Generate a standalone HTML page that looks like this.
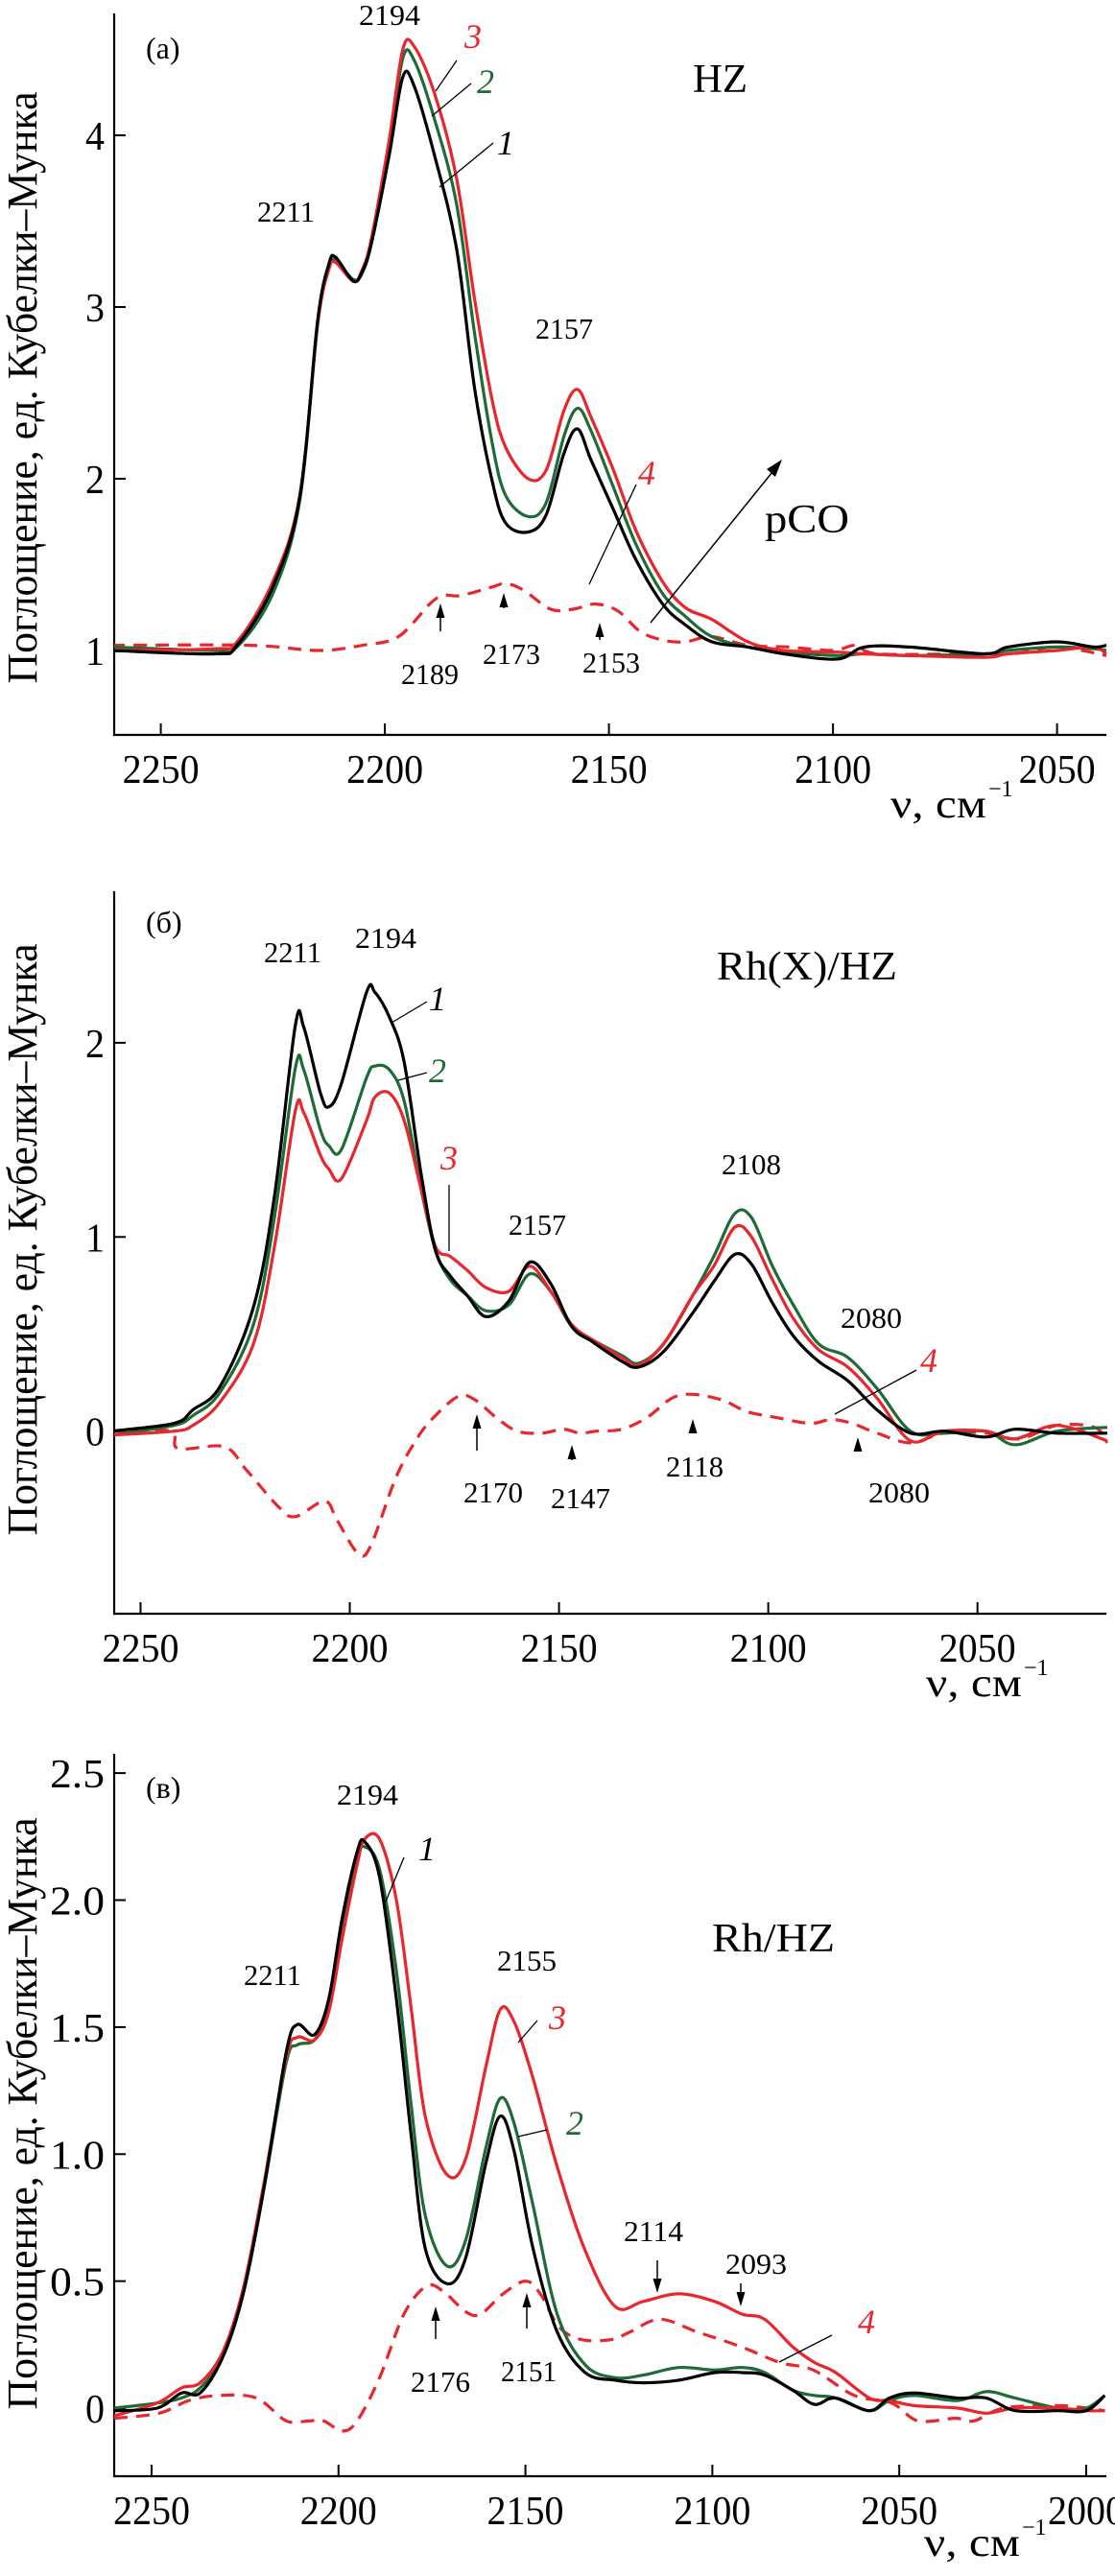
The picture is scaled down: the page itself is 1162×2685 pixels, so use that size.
<!DOCTYPE html>
<html><head><meta charset="utf-8"><style>
html,body{margin:0;padding:0;background:#fff}
svg{display:block}
text{font-family:"Liberation Serif","DejaVu Serif",serif}
</style></head><body>
<svg id="fig" width="1162" height="2685" viewBox="0 0 1162 2685" xmlns="http://www.w3.org/2000/svg"></svg>
<script>
// ---------- Panel (a) HZ ----------
const aX=[2261,2238,2233,2225,2219,2215,2212.5,2211,2207,2205,2203,2199,2196,2193.5,2189,2184,2180,2176,2173,2168,2164,2160,2157,2154,2149,2144,2138,2133,2127,2119,2111,2099,2093,2083,2066,2061,2050,2042,2039];
const aY1=[1.0,0.98,1.03,1.37,1.89,2.92,3.25,3.29,3.15,3.21,3.37,3.89,4.34,4.29,3.89,3.34,2.53,1.98,1.74,1.69,1.79,2.15,2.29,2.11,1.82,1.53,1.27,1.15,1.05,1.02,0.98,0.95,1.02,1.02,0.98,1.02,1.05,1.02,1.03];
const aY2=[1.02,1.0,1.02,1.33,1.87,2.9,3.23,3.27,3.16,3.2,3.38,3.95,4.45,4.44,4.1,3.6,2.85,2.2,1.9,1.78,1.86,2.25,2.41,2.28,1.95,1.62,1.33,1.2,1.08,1.02,0.99,0.97,0.98,0.97,0.98,1.0,1.02,1.01,1.0];
const aY3=[1.0,1.01,1.05,1.4,1.9,2.9,3.22,3.26,3.15,3.22,3.4,3.98,4.5,4.52,4.25,3.75,3.05,2.45,2.18,2.0,2.05,2.4,2.52,2.36,2.05,1.7,1.4,1.25,1.18,1.05,1.0,0.99,0.98,0.97,0.96,0.98,1.0,1.02,0.98];
const aX4=[2261,2230,2215,2205,2197,2190,2187,2183,2176,2173,2169,2163,2158,2153,2148,2143,2138,2133,2127,2119,2110,2100,2095,2090,2070,2060,2050,2039];
const aY4=[1.03,1.03,1.0,1.03,1.08,1.27,1.32,1.32,1.37,1.39,1.35,1.24,1.24,1.27,1.23,1.11,1.06,1.05,1.08,1.03,1.02,1.0,1.03,0.98,0.98,0.98,1.02,0.97];
const aXTicks=[2250,2200,2150,2100,2050];
const aYTicks=[1,2,3,4];

// ---------- Panel (б) Rh(X)/HZ ----------
const bX=[2257,2242,2237.5,2231,2223,2218,2213,2211,2207,2205,2202,2196,2194,2190.5,2187,2183,2179.5,2176,2172,2167.5,2162,2157,2152,2147,2142,2135,2131,2125,2118,2113,2108,2104,2099,2094,2088,2081,2074,2066,2058,2048,2041,2031,2019];
const bY1=[0,0.04,0.11,0.23,0.64,1.21,2.09,2.08,1.74,1.67,1.79,2.26,2.26,2.13,1.9,1.33,0.93,0.8,0.7,0.59,0.67,0.87,0.76,0.54,0.46,0.36,0.33,0.41,0.61,0.77,0.91,0.86,0.66,0.49,0.36,0.26,0.11,-0.01,0,-0.03,0.01,-0.01,-0.01];
const bY2=[-0.02,0.03,0.08,0.2,0.55,1.1,1.87,1.86,1.55,1.47,1.45,1.82,1.88,1.86,1.7,1.25,0.93,0.78,0.7,0.62,0.65,0.81,0.72,0.54,0.47,0.39,0.35,0.45,0.7,0.9,1.12,1.1,0.85,0.65,0.45,0.38,0.22,0,-0.01,0,-0.07,0,0.02];
const bY3=[-0.02,0,0.03,0.15,0.45,0.95,1.65,1.64,1.42,1.35,1.3,1.6,1.72,1.74,1.6,1.25,0.95,0.9,0.83,0.74,0.72,0.85,0.72,0.55,0.47,0.38,0.34,0.45,0.7,0.85,1.05,1.0,0.78,0.58,0.42,0.33,0.17,-0.05,0,0,-0.04,0.03,-0.05];
const bX4=[2257,2243,2241,2230,2224.7,2217,2213,2206,2203,2198,2195,2189,2184,2180,2174,2170,2165,2160,2154,2149,2145,2141,2135,2129,2123,2118,2111,2105,2098,2090,2085,2080,2074,2066,2058,2048,2040,2031,2022,2019];
const bY4=[0,0,-0.09,-0.08,-0.2,-0.39,-0.44,-0.36,-0.46,-0.63,-0.59,-0.24,-0.04,0.07,0.18,0.16,0.07,0,-0.01,0.01,-0.01,0,0.01,0.07,0.17,0.19,0.16,0.1,0.07,0.04,0.06,0.04,-0.01,-0.06,-0.01,-0.01,-0.04,0.03,0.02,-0.06];
const bXTicks=[2250,2200,2150,2100,2050];
const bYTicks=[0,1,2];

// ---------- Panel (в) Rh/HZ ----------
const cX=[2260,2248.5,2242,2237,2231,2225.5,2220,2214,2211,2206.4,2202.6,2199,2195,2193,2189,2184.5,2180.6,2176.8,2171,2166,2160.5,2156.7,2153,2148,2141.5,2134,2126,2118.5,2109,2099.4,2092,2086,2078.4,2072.7,2067,2058,2052.6,2046,2034.4,2026.7,2019,2007.6,2000,1995];
const cY1=[-0.01,0,0.06,0.06,0.2,0.45,0.86,1.4,1.51,1.47,1.61,1.93,2.19,2.23,2.09,1.61,1.08,0.63,0.49,0.59,0.97,1.15,1.01,0.63,0.3,0.14,0.11,0.1,0.11,0.14,0.14,0.13,0.07,0.015,0.04,-0.01,0.04,0.06,0.04,0.04,-0.01,-0.01,-0.01,0.05];
const cY2=[0,0.02,0.04,0.08,0.2,0.45,0.86,1.36,1.43,1.45,1.58,1.9,2.16,2.21,2.12,1.72,1.2,0.76,0.56,0.66,1.03,1.22,1.12,0.8,0.37,0.17,0.12,0.13,0.16,0.15,0.16,0.14,0.07,0.05,0.04,-0.01,0.03,0.05,0.03,0.065,0.04,0.0,0.0,0.05];
const cY3=[-0.03,0.02,0.08,0.1,0.22,0.47,0.88,1.38,1.46,1.45,1.56,1.85,2.14,2.24,2.24,2.0,1.58,1.15,0.92,0.98,1.35,1.57,1.52,1.3,0.95,0.62,0.4,0.42,0.45,0.42,0.37,0.35,0.24,0.18,0.14,0.04,0.03,0.01,0.0,-0.02,0.0,0.0,-0.01,-0.01];
const cX4=[2260,2248,2240,2232,2222,2214,2208,2204,2199,2195,2189,2182.5,2176.5,2172,2166,2162,2156,2150,2146,2141,2135,2127,2122,2114,2104,2092,2082,2073,2062,2052,2045,2035,2030,2022,2007,1995];
const cY4=[-0.04,-0.02,0.03,0.05,0.04,-0.05,-0.05,-0.05,-0.09,-0.05,0.12,0.37,0.48,0.46,0.38,0.37,0.45,0.5,0.45,0.32,0.27,0.27,0.3,0.35,0.3,0.24,0.18,0.15,0.05,0.02,-0.05,-0.04,-0.05,0,0.01,-0.01];
const cXTicks=[2250,2200,2150,2100,2050,2000];
const cYTicks=[0,0.5,1.0,1.5,2.0,2.5];
const cYTickLabels=["0","0.5","1.0","1.5","2.0","2.5"];

const NS="http://www.w3.org/2000/svg";
const svg=document.getElementById('fig');
const RED="#e8262c",GREEN="#1f6b35",BLACK="#000";

function mk(tag,attrs,parent){
  const e=document.createElementNS(NS,tag);
  for(const k in attrs) e.setAttribute(k,attrs[k]);
  (parent||svg).appendChild(e);
  return e;
}
function txt(s,x,y,size,opts,parent){
  opts=opts||{};
  const t=mk('text',{x:x,y:y,'font-size':size,fill:opts.fill||'#000','text-anchor':opts.anchor||'start'},parent);
  if(opts.italic) t.setAttribute('font-style','italic');
  if(opts.len){t.setAttribute('textLength',opts.len);t.setAttribute('lengthAdjust','spacingAndGlyphs');}
  if(opts.transform) t.setAttribute('transform',opts.transform);
  t.textContent=s;
  return t;
}
function smoothPath(pts){
  let d='M'+pts[0][0].toFixed(1)+','+pts[0][1].toFixed(1);
  for(let i=0;i<pts.length-1;i++){
    const p0=pts[i-1]||pts[i],p1=pts[i],p2=pts[i+1],p3=pts[i+2]||p2;
    const c1x=p1[0]+(p2[0]-p0[0])/6,c1y=p1[1]+(p2[1]-p0[1])/6;
    const c2x=p2[0]-(p3[0]-p1[0])/6,c2y=p2[1]-(p3[1]-p1[1])/6;
    d+=`C${c1x.toFixed(1)},${c1y.toFixed(1)} ${c2x.toFixed(1)},${c2y.toFixed(1)} ${p2[0].toFixed(1)},${p2[1].toFixed(1)}`;
  }
  return d;
}

function panel(cfg){
  const g=mk('g',{});
  
  
  const sx=v=>cfg.L+(cfg.x0-v)/(cfg.x0-cfg.x1)*(cfg.R-cfg.L);
  const sy=v=>cfg.B-(v-cfg.y0)/(cfg.y1-cfg.y0)*(cfg.B-cfg.T);
  const ax=mk('path',{d:`M${cfg.L},${cfg.T}V${cfg.B}H${cfg.R}`,fill:'none',stroke:'#000','stroke-width':2.2},g);
  
  
  cfg.xt.forEach(v=>{
    mk('line',{x1:sx(v),x2:sx(v),y1:cfg.B,y2:cfg.B-12,stroke:'#000','stroke-width':2},g);
    const t=txt(String(v),sx(v),cfg.B+50,42,{anchor:'middle',len:80},g);
    
    
  });
  cfg.yt.forEach((v,i)=>{
    mk('line',{x1:cfg.L,x2:cfg.L+12,y1:sy(v),y2:sy(v),stroke:'#000','stroke-width':2},g);
    const lab=cfg.ytl?cfg.ytl[i]:String(v);
    const t=txt(lab,cfg.L-10,sy(v)+15,42,{anchor:'end',len:lab.length>1?lab.length*19:20},g);
    
    
  });
  const yt=txt('Поглощение, ед. Кубелки–Мунка',0,0,44,{anchor:'middle',len:617,transform:`translate(38,${cfg.ymid}) rotate(-90)`},g);
  
  
  const xt=txt('ν, см',cfg.xlx,cfg.xly,42,{len:100},g);
  
  
  const sup=txt('−1',cfg.xlx+102,cfg.xly-22,24,{},g);
  
  
  const cid='clip'+cfg.name;
  const cp=mk('clipPath',{id:cid},g);
  mk('rect',{x:cfg.L,y:cfg.T-40,width:cfg.R-cfg.L+8,height:cfg.B-cfg.T+40},cp);
  function series(xs,ys,color,name,dash){
    const pts=xs.map((x,i)=>[sx(x),sy(ys[i])]);
    const p=mk('path',{d:smoothPath(pts),fill:'none',stroke:color,'stroke-width':3.2,'stroke-linejoin':'round','clip-path':`url(#${cid})`},g);
    if(dash) p.setAttribute('stroke-dasharray','14 9');
    
    
  }
  series(cfg.X4,cfg.Y4,RED,'curve-4-difference',true);
  series(cfg.X,cfg.Y2,GREEN,'curve-2');
  series(cfg.X,cfg.Y3,RED,'curve-3');
  series(cfg.X,cfg.Y1,BLACK,'curve-1');
  return g;
}

function line(x1,y1,x2,y2,w,name){
  const l=mk('line',{x1:x1,y1:y1,x2:x2,y2:y2,stroke:'#000','stroke-width':w||1.3});
  
  
}
function arrow(x,yTail,yHead,name){
  const dir=yHead<yTail?1:-1;
  line(x,yTail,x,yHead+dir*10,1.5,name);
  const p=mk('path',{d:`M${x},${yHead}L${x-4.5},${yHead+dir*15}L${x+4.5},${yHead+dir*15}Z`,fill:'#000'});
  
  
}
function label(s,x,y,size,opts,name){
  const t=txt(s,x,y,size,opts);
  
  
}

// Panel a
panel({name:'panel-a',L:119,R:1153,T:14,B:766,x0:2260.4,x1:2039,y0:0.508,y1:4.71,xt:aXTicks,yt:aYTicks,ymid:404,xlx:928,xly:852,
  X:aX,Y1:aY1,Y2:aY2,Y3:aY3,X4:aX4,Y4:aY4});
label('(a)',152,61,32,{},'panel-label-a');
label('HZ',722,96,42,{len:57},'sample-label-hz');
label('2194',406,26,31,{anchor:'middle',len:64},'peak-label-2194');
label('2211',298,231,31,{anchor:'middle',len:60},'peak-label-2211');
label('2157',588,353,31,{anchor:'middle',len:60},'peak-label-2157');
label('3',493,50,36,{italic:true,fill:RED,anchor:'middle'},'curve-label-3');line(476,63,454,95);
label('2',506,97,36,{italic:true,fill:GREEN,anchor:'middle'},'curve-label-2');line(491,87,450,121);
label('1',527,161,36,{italic:true,anchor:'middle'},'curve-label-1');line(514,149,458,195);
label('4',674,505,36,{italic:true,fill:RED,anchor:'middle'},'curve-label-4');line(663,505,614,609);
line(678,649,809,487,1.5,'pco-arrow');
{const p=mk('path',{d:'M815,479L799,489L808,497Z',fill:'#000'});}
label('pCO',797,555,42,{len:88},'pco-label');
arrow(459,658,629,'arrow-2189');arrow(525,634,618,'arrow-2173');arrow(625,667,649,'arrow-2153');
label('2189',448,713,31,{anchor:'middle',len:60},'band-label-2189');
label('2173',533,692,31,{anchor:'middle',len:60},'band-label-2173');
label('2153',637,701,31,{anchor:'middle',len:60},'band-label-2153');

// Panel b
panel({name:'panel-b',L:119,R:1153,T:929,B:1682,x0:2256.3,x1:2019.2,y0:-0.94,y1:2.78,xt:bXTicks,yt:bYTicks,ymid:1292,xlx:965,xly:1768,
  X:bX,Y1:bY1,Y2:bY2,Y3:bY3,X4:bX4,Y4:bY4});
label('(б)',152,972,32,{},'panel-label-b');
label('Rh(X)/HZ',747,1021,42,{len:188},'sample-label-rhx-hz');
label('2211',305,1003,31,{anchor:'middle',len:60},'peak-label-2211');
label('2194',402,988,31,{anchor:'middle',len:64},'peak-label-2194');
label('1',456,1053,36,{italic:true,anchor:'middle'},'curve-label-1');line(445,1044,408,1066);
label('2',456,1128,36,{italic:true,fill:GREEN,anchor:'middle'},'curve-label-2');line(445,1118,415,1126);
label('3',468,1219,36,{italic:true,fill:RED,anchor:'middle'},'curve-label-3');line(468,1235,468,1304);
label('2157',560,1287,31,{anchor:'middle',len:60},'peak-label-2157');
label('2108',783,1224,31,{anchor:'middle',len:62},'peak-label-2108');
label('2080',908,1384,31,{anchor:'middle',len:64},'peak-label-2080');
label('4',968,1430,36,{italic:true,fill:RED,anchor:'middle'},'curve-label-4');line(955,1428,870,1474);
arrow(497,1512,1474,'arrow-2170');arrow(596,1522,1506,'arrow-2147');arrow(722,1494,1479,'arrow-2118');arrow(894,1512,1498,'arrow-2080');
label('2170',514,1566,31,{anchor:'middle',len:62},'band-label-2170');
label('2147',605,1572,31,{anchor:'middle',len:62},'band-label-2147');
label('2118',724,1539,31,{anchor:'middle',len:60},'band-label-2118');
label('2080',937,1566,31,{anchor:'middle',len:64},'band-label-2080');

// Panel c
panel({name:'panel-c',L:119,R:1153,T:1828,B:2581,x0:2260,x1:1994.6,y0:-0.268,y1:2.576,xt:cXTicks,yt:cYTicks,ytl:cYTickLabels,ymid:2203,xlx:963,xly:2664,
  X:cX,Y1:cY1,Y2:cY2,Y3:cY3,X4:cX4,Y4:cY4});
label('(в)',152,1874,32,{},'panel-label-c');
label('Rh/HZ',742,2034,42,{len:128},'sample-label-rh-hz');
label('2194',383,1881,31,{anchor:'middle',len:64},'peak-label-2194');
label('2211',284,2069,31,{anchor:'middle',len:60},'peak-label-2211');
label('2155',549,2054,31,{anchor:'middle',len:62},'peak-label-2155');
label('1',445,1939,36,{italic:true,anchor:'middle'},'curve-label-1');line(421,1936,402,1982);
label('3',581,2115,36,{italic:true,fill:RED,anchor:'middle'},'curve-label-3');line(560,2106,540,2129);
label('2',599,2225,36,{italic:true,fill:GREEN,anchor:'middle'},'curve-label-2');line(570,2220,540,2227);
label('2114',681,2336,31,{anchor:'middle',len:62},'peak-label-2114');
label('2093',788,2370,31,{anchor:'middle',len:64},'peak-label-2093');
arrow(685,2356,2390,'arrow-2114');arrow(772,2380,2404,'arrow-2093');
label('4',903,2432,36,{italic:true,fill:RED,anchor:'middle'},'curve-label-4');line(867,2434,812,2462);
arrow(454,2438,2404,'arrow-2176');arrow(549,2427,2390,'arrow-2151');
label('2176',459,2493,31,{anchor:'middle',len:62},'band-label-2176');
label('2151',551,2482,31,{anchor:'middle',len:58},'band-label-2151');
</script>
</body></html>
